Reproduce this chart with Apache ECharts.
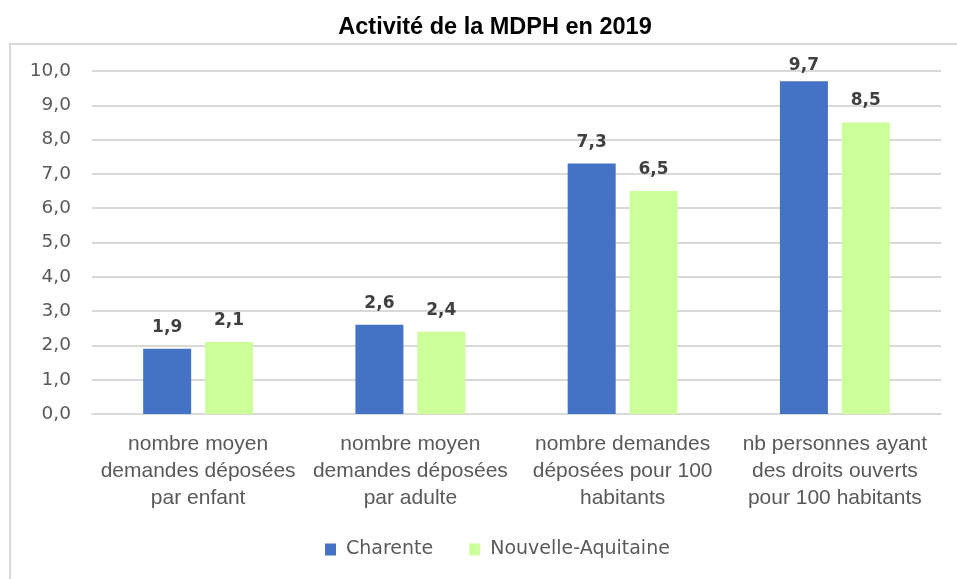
<!DOCTYPE html>
<html>
<head>
<meta charset="utf-8">
<script src="https://cdn.jsdelivr.net/npm/echarts@6/dist/echarts.min.js"></script>
<style>
    html, body { margin: 0; padding: 0; background: #fff; }
    #chart { width: 957px; height: 579px; }
</style>
</head>
<body>
<div id="chart"></div>
<script>
// données
var categories = [
    'nombre moyen\ndemandes déposées\npar enfant',
    'nombre moyen\ndemandes déposées\npar adulte',
    'nombre demandes\ndéposées pour 100\nhabitants',
    'nb personnes ayant\ndes droits ouverts\npour 100 habitants'
];
var charente = [1.9, 2.6, 7.3, 9.7];
var nouvelleAquitaine = [2.1, 2.4, 6.5, 8.5];
var seriesNames = ['Charente', 'Nouvelle-Aquitaine'];

(function() {
    var myChart = echarts.init(document.getElementById('chart'));

    // virgule décimale
    function fr(v) {
        return v.toFixed(1).replace('.', ',');
    }

    var labelStyle = {
        show: true,
        position: 'top',
        distance: 13,
        fontFamily: 'DejaVu Sans',
        fontWeight: 'bold',
        fontSize: 17,
        color: '#404040',
        formatter: function(p) { return fr(p.value); }
    };

    // étiquette rapprochée quand la barre touche le haut du graphique
    function withLabels(values) {
        return values.map(function(v) {
            return v > 9.5 ? { value: v, label: { distance: 7 } } : v;
        });
    }

    var option = {
        animation: false,
        backgroundColor: '#fff',
        title: {
            text: 'Activité de la MDPH en 2019',
            left: 490,
            textAlign: 'center',
            top: 11,
            textStyle: {
                fontFamily: 'Liberation Sans',
                fontWeight: 'bold',
                fontSize: 23.5,
                color: '#000'
            }
        },
        // cadre du graphique
        graphic: [{
            type: 'rect',
            shape: { x: 10, y: 44, width: 960, height: 560 },
            style: { fill: 'none', stroke: '#d9d9d9', lineWidth: 2 },
            z: -1
        }],
        legend: {
            data: seriesNames,
            bottom: 15,
            left: 320,
            itemWidth: 11,
            itemHeight: 12,
            itemGap: 36,
            icon: 'rect',
            textStyle: {
                fontFamily: 'DejaVu Sans',
                fontSize: 19,
                color: '#595959',
                padding: [0, 0, 0, 5]
            }
        },
        grid: {
            left: 92,
            right: 16,
            top: 71,
            bottom: 165
        },
        xAxis: {
            type: 'category',
            data: categories,
            axisTick: { show: false },
            axisLine: { lineStyle: { color: '#d9d9d9', width: 2 } },
            axisLabel: {
                margin: 17,
                interval: 0,
                fontFamily: 'Liberation Sans',
                fontSize: 21,
                lineHeight: 27,
                color: '#595959'
            }
        },
        yAxis: {
            type: 'value',
            min: 0,
            max: 10,
            interval: 1,
            axisLine: { show: false },
            axisTick: { show: false },
            splitLine: { lineStyle: { color: '#d9d9d9', width: 2 } },
            axisLabel: {
                margin: 21,
                fontFamily: 'DejaVu Sans',
                fontSize: 18.5,
                color: '#595959',
                formatter: function(v) { return fr(v); }
            }
        },
        series: [{
            name: seriesNames[0],
            type: 'bar',
            barWidth: 48,
            barGap: '29%',
            data: withLabels(charente),
            itemStyle: { color: '#4472C4' },
            label: labelStyle
        }, {
            name: seriesNames[1],
            type: 'bar',
            barWidth: 48,
            data: withLabels(nouvelleAquitaine),
            itemStyle: { color: '#CCFF99' },
            label: labelStyle
        }]
    };

    myChart.setOption(option);
})();
</script>
</body>
</html>
